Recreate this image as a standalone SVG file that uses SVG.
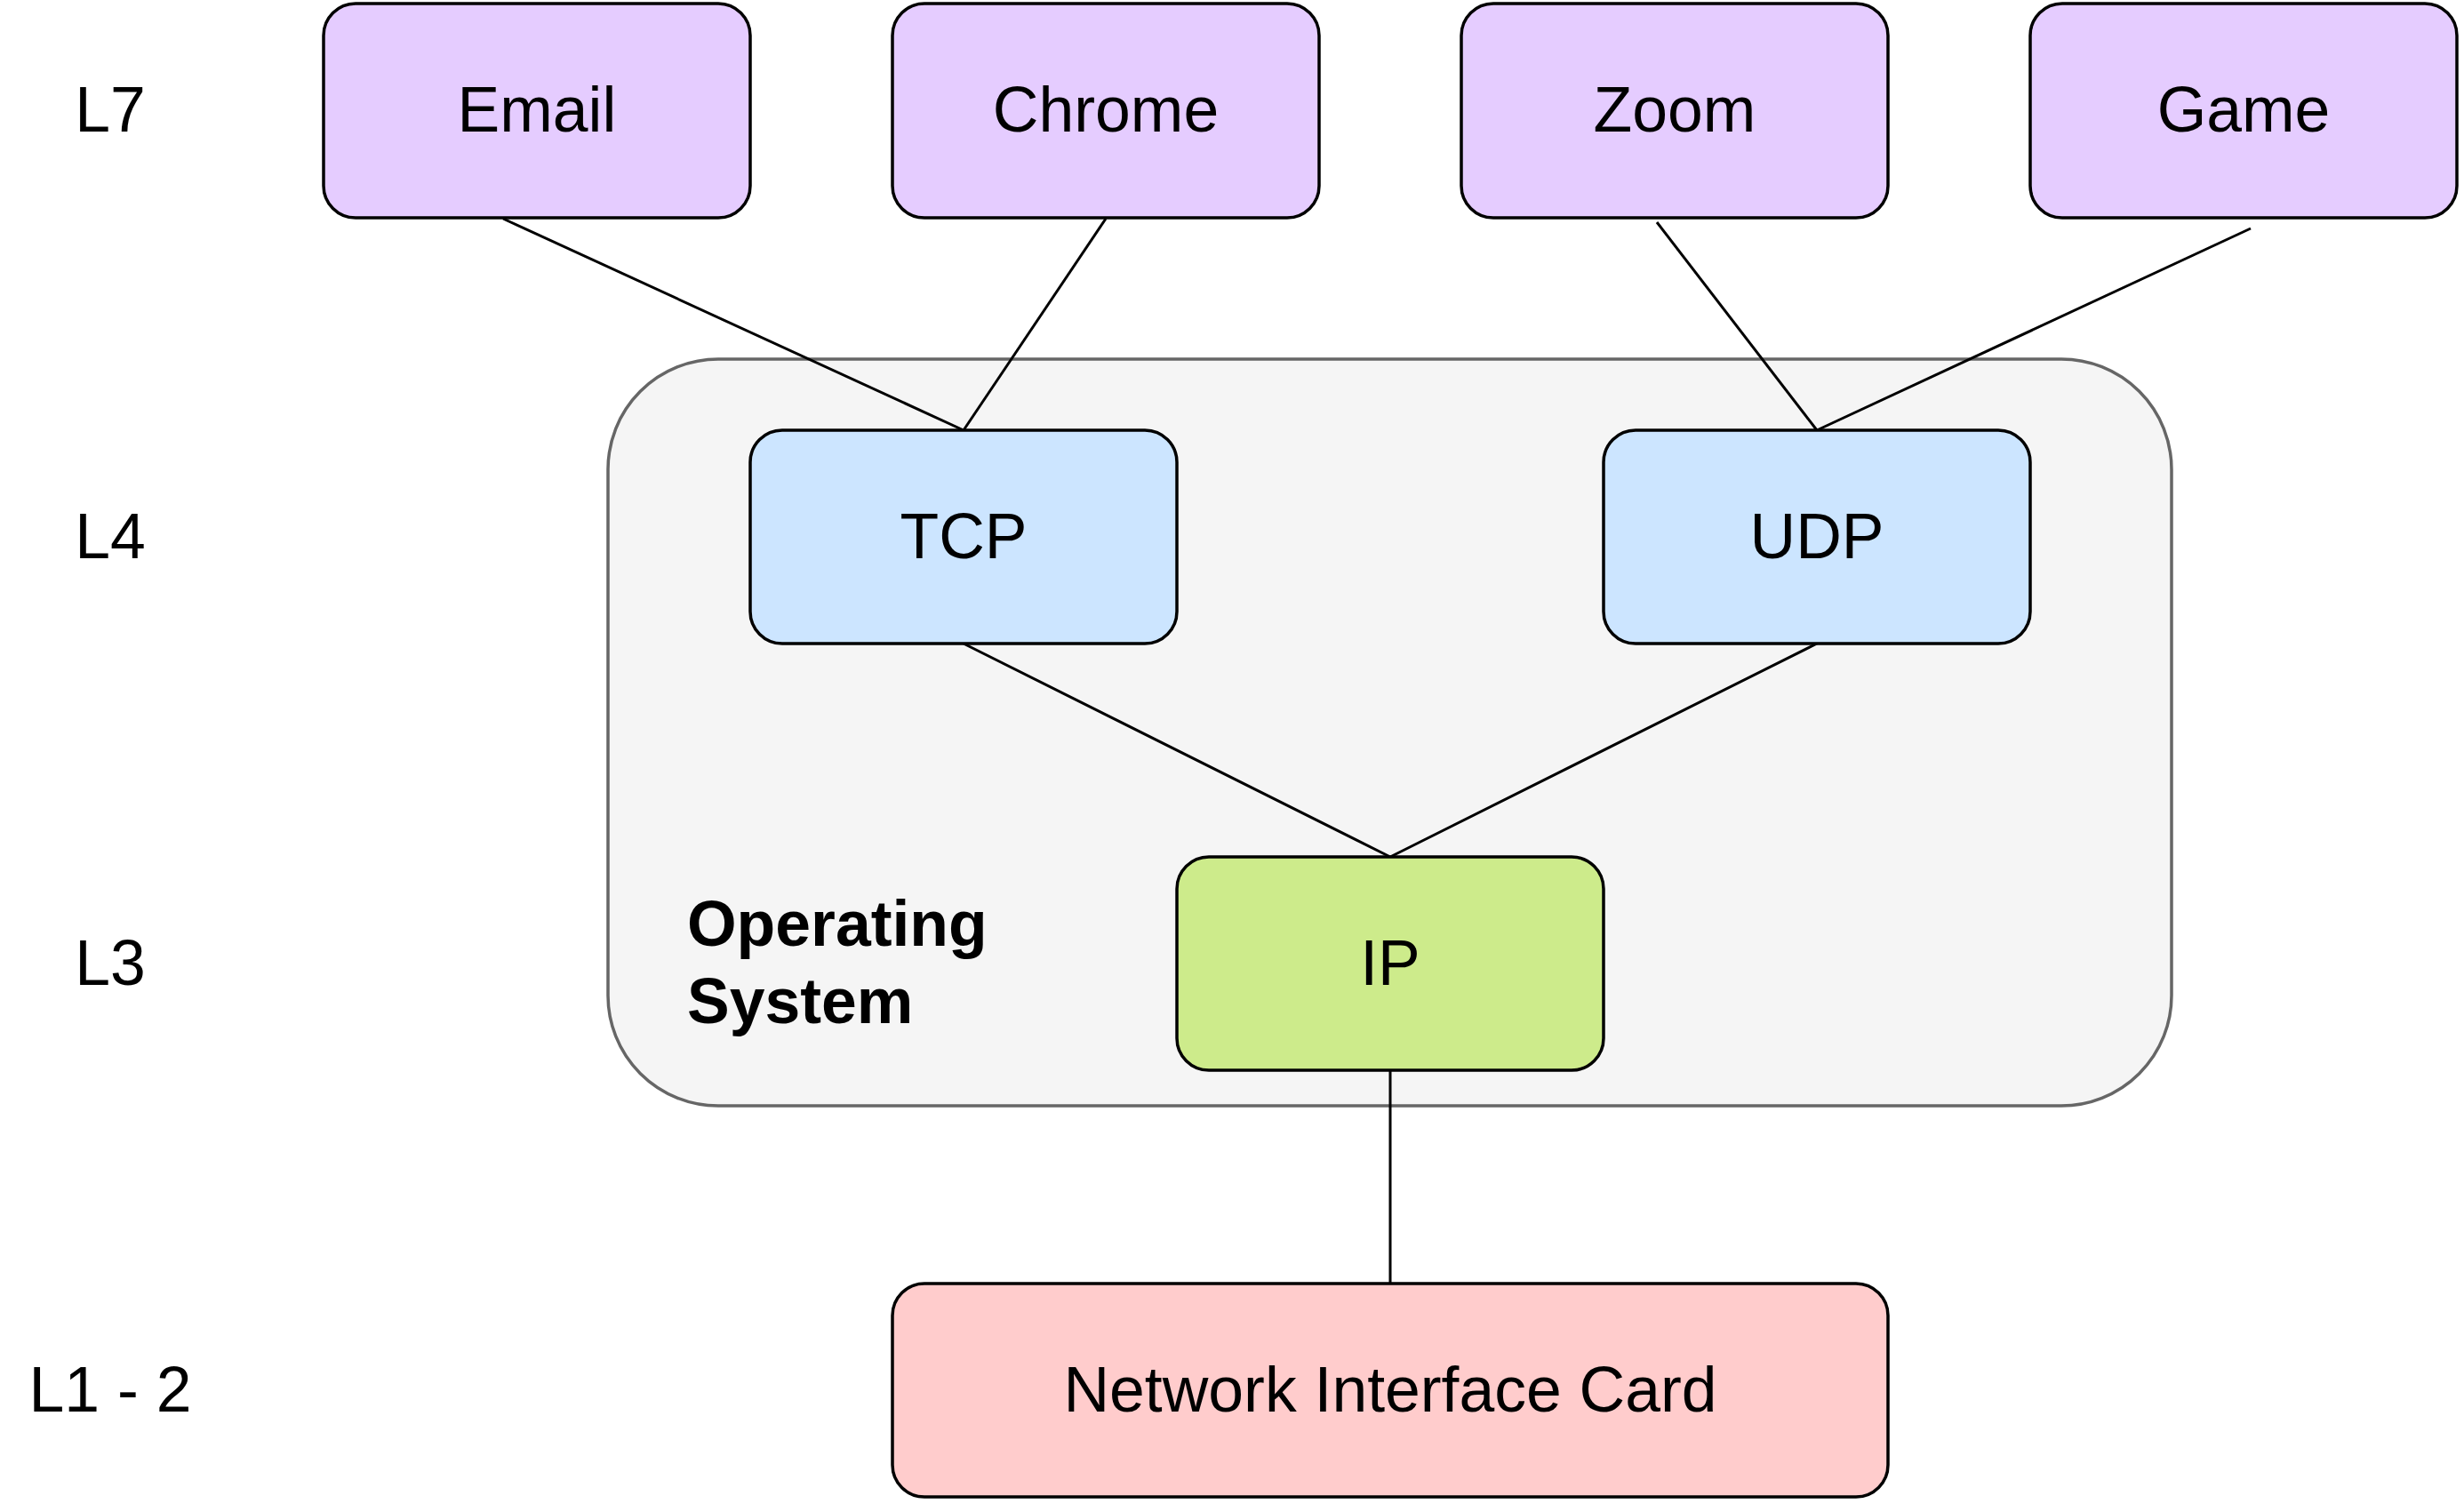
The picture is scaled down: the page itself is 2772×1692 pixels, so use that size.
<svg xmlns="http://www.w3.org/2000/svg" width="2772" height="1692" viewBox="0 0 2772 1692">
<style>
.box{stroke:#000;stroke-width:3.5}
.app{fill:#e5ccff}
.l4{fill:#cce5ff}
.ip{fill:#cdeb8b}
.nic{fill:#ffcccc}
.lbl{font-family:"Liberation Sans",Arial,sans-serif;font-size:71.5px;fill:#000;text-anchor:middle}
.os{font-family:"Liberation Sans",Arial,sans-serif;font-size:71.5px;font-weight:bold;fill:#000}
.conn line{stroke:#000;stroke-width:3;fill:none}
</style>
<rect width="2772" height="1692" fill="#fff"/>
<g id="os-container">
<rect x="684" y="404" width="1759" height="840" rx="124" ry="124" fill="#f5f5f5" stroke="#666" stroke-width="3.5"/>
<text class="os" x="773" y="1064">Operating</text>
<text class="os" x="773" y="1151">System</text>
</g>
<g id="layer-labels">
<text class="lbl" x="124" y="148">L7</text>
<text class="lbl" x="124" y="628">L4</text>
<text class="lbl" x="124" y="1108">L3</text>
<text class="lbl" x="124" y="1588">L1 - 2</text>
</g>
<g class="conn" id="connectors">
<line x1="566" y1="246" x2="1084" y2="484"/>
<line x1="1244" y1="246" x2="1084" y2="484"/>
<line x1="1864" y1="250" x2="2044" y2="484"/>
<line x1="2532" y1="257" x2="2044" y2="484"/>
<line x1="1084" y1="724" x2="1564" y2="964"/>
<line x1="2044" y1="724" x2="1564" y2="964"/>
<line x1="1564" y1="1204" x2="1564" y2="1444"/>
</g>
<g id="email">
<rect class="box app" x="364" y="4" width="480" height="241" rx="36" ry="36"/>
<text class="lbl" x="604" y="148">Email</text>
</g>
<g id="chrome">
<rect class="box app" x="1004" y="4" width="480" height="241" rx="36" ry="36"/>
<text class="lbl" x="1244" y="148">Chrome</text>
</g>
<g id="zoom">
<rect class="box app" x="1644" y="4" width="480" height="241" rx="36" ry="36"/>
<text class="lbl" x="1884" y="148">Zoom</text>
</g>
<g id="game">
<rect class="box app" x="2284" y="4" width="480" height="241" rx="36" ry="36"/>
<text class="lbl" x="2524" y="148">Game</text>
</g>
<g id="tcp">
<rect class="box l4" x="844" y="484" width="480" height="240" rx="36" ry="36"/>
<text class="lbl" x="1084" y="628">TCP</text>
</g>
<g id="udp">
<rect class="box l4" x="1804" y="484" width="480" height="240" rx="36" ry="36"/>
<text class="lbl" x="2044" y="628">UDP</text>
</g>
<g id="ip">
<rect class="box ip" x="1324" y="964" width="480" height="240" rx="36" ry="36"/>
<text class="lbl" x="1564" y="1108">IP</text>
</g>
<g id="nic">
<rect class="box nic" x="1004" y="1444" width="1120" height="240" rx="36" ry="36"/>
<text class="lbl" x="1564" y="1588">Network Interface Card</text>
</g>
</svg>
